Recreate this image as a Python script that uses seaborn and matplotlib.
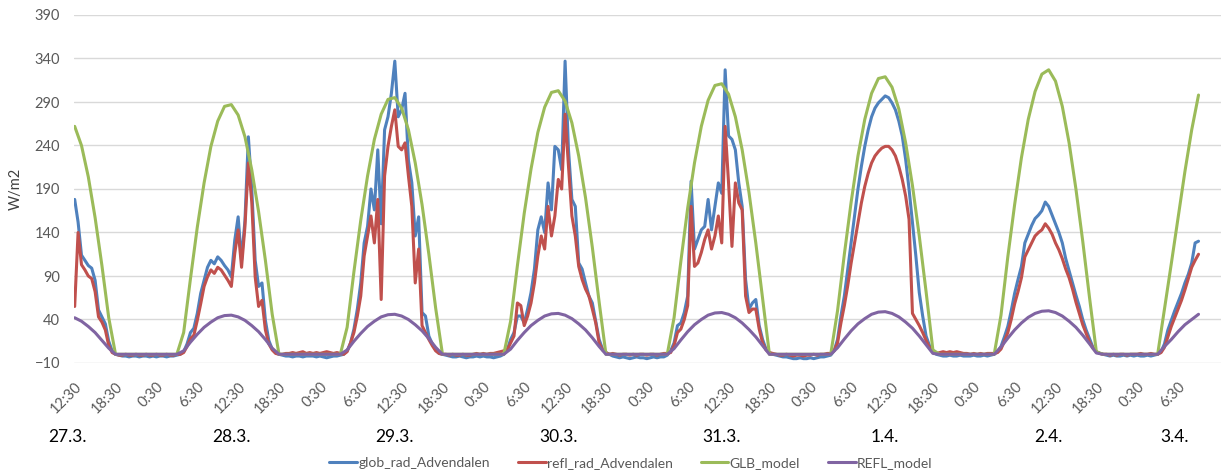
import matplotlib
matplotlib.use("Agg")
import matplotlib.pyplot as plt
import matplotlib.dates as mdates
import matplotlib.transforms as mtransforms
import pandas as pd
import seaborn as sns

# measured radiation, 30 min steps, first value 27.3. 12:30
glob_27 = [178, 152, 114, 108, 102, 99, 85, 51, 43, 35, 15, 4, 0,
           -1, -2, -2, -3, -2, -2, -3, -2, -2, -3]
glob_28 = [-2, -3, -2, -2, -3, -2, -2, -1,
           0, 3, 12, 25, 30, 47, 70, 85, 100, 108, 104, 112, 108, 102, 97,
           89, 131, 158, 108, 154, 250, 190, 108, 78, 82, 39, 16, 6, 2, 0,
           -1, -2, -2, -3, -2, -2, -3, -2, -2, -2]
glob_29 = [-3, -2, -3, -4, -3, -2, -2, -1,
           0, 4, 13, 29, 52, 82, 128, 147, 190, 166, 235, 150, 258, 273, 300,
           337, 273, 281, 300, 223, 197, 136, 158, 48, 44, 21, 12, 5, 1, 0,
           -1, -2, -3, -3, -2, -3, -4, -3, -3, -2]
glob_30 = [-3, -2, -3, -3, -4, -3, -2, 0,
           5, 17, 25, 44, 44, 36, 52, 71, 98, 143, 158, 140, 197, 166, 239,
           235, 212, 337, 235, 178, 170, 105, 98, 82, 67, 59, 38, 17, 6, 2,
           0, -2, -3, -4, -3, -4, -5, -4, -3, -4]
glob_31 = [-4, -5, -4, -3, -4, -3, -3, -1,
           4, 13, 33, 36, 48, 67, 199, 121, 132, 143, 147, 178, 143, 170, 197,
           185, 327, 251, 247, 235, 197, 170, 86, 52, 59, 63, 33, 17, 6, 2,
           0, -1, -2, -3, -3, -4, -5, -5, -4, -5]
glob_01 = [-5, -4, -5, -4, -3, -3, -2, -1,
           4, 17, 44, 67, 98, 128, 159, 190, 216, 239, 258, 273, 283, 289, 293,
           297, 295, 289, 281, 268, 251, 224, 190, 151, 113, 71, 44, 21, 10, 4,
           0, -1, -2, -2, -1, -2, -2, -1, -2, -2]
glob_02 = [-2, -1, -2, -2, -1, -2, -1, 0,
           3, 9, 20, 32, 50, 70, 86, 101, 128, 138, 148, 156, 160, 165, 175,
           170, 160, 150, 140, 128, 110, 96, 82, 68, 55, 40, 28, 18, 8, 3,
           1, 0, -1, -2, -1, -2, -2, -1, -2, -1]
glob_03 = [-2, -1, -2, -2, -1, -2, -1, 0,
           3, 12, 28, 39, 50, 60, 70, 82, 92, 105, 128, 130]

refl_27 = [55, 140, 103, 97, 90, 87, 72, 43, 37, 28, 10, 2, 0,
           -1, -1, 0, -1, -1, 0, -1, -1, 0, -1]
refl_28 = [-1, 0, -1, -1, 0, -1, -1, 0,
           0, 2, 9, 18, 22, 39, 58, 78, 89, 97, 93, 100, 97, 91, 85,
           78, 116, 143, 100, 147, 220, 175, 89, 55, 62, 28, 12, 5, 1, 0,
           0, 1, 1, 2, 1, 2, 3, 1, 2, 1]
refl_29 = [2, 1, 2, 3, 2, 1, 2, 1,
           0, 3, 13, 25, 44, 67, 113, 136, 159, 128, 178, 63, 205, 239, 262,
           281, 239, 235, 243, 205, 170, 82, 121, 33, 25, 17, 10, 4, 1, 0,
           0, -1, 0, -1, -1, 0, -1, -1, 0, 1]
refl_30 = [0, 1, 0, 1, 1, 2, 3, 4,
           5, 13, 21, 59, 56, 33, 44, 59, 82, 113, 136, 121, 170, 136, 159,
           201, 190, 276, 216, 159, 136, 101, 86, 75, 67, 52, 36, 13, 5, 2,
           0, 1, 0, -1, 0, 0, -1, 0, -1, 0]
refl_31 = [0, -1, 0, 0, -1, 0, 1, 1,
           2, 10, 25, 29, 40, 56, 170, 101, 105, 117, 132, 143, 121, 136, 159,
           128, 262, 197, 124, 197, 174, 166, 67, 48, 52, 52, 29, 13, 5, 2,
           1, 0, -1, -1, 0, -1, -2, -1, -1, -2]
refl_01 = [-1, -1, 0, -1, 0, 0, 1, 1,
           4, 13, 36, 56, 79, 105, 128, 151, 174, 193, 208, 220, 228, 233, 237,
           239, 239, 235, 228, 216, 201, 182, 155, 47, 40, 33, 25, 16, 8, 4,
           1, 2, 3, 2, 3, 2, 3, 2, 1, 1]
refl_02 = [0, 1, 0, 1, 0, 1, 1, 1,
           2, 6, 15, 25, 40, 58, 72, 88, 112, 120, 128, 136, 140, 143, 150,
           145, 138, 128, 120, 110, 98, 88, 75, 60, 47, 34, 24, 14, 7, 3,
           1, 0, 0, -1, 0, -1, 0, 0, -1, 0]
refl_03 = [0, 0, 1, 0, 0, 1, 0, 0,
           2, 8, 20, 32, 42, 52, 62, 74, 87, 100, 108, 115]

# model values, hourly, first value 27.3. 12:30
glb_27 = [262, 240, 204, 157, 102, 42, 0, 0, 0, 0, 0, 0]
glb_28 = [0, 0, 0, 0, 25, 87, 146, 197, 239, 268, 285, 287, 275, 250, 212, 164, 108, 46, 0, 0, 0, 0, 0, 0]
glb_29 = [0, 0, 0, 0, 31, 95, 154, 205, 247, 276, 293, 295, 283, 258, 220, 172, 115, 53, 0, 0, 0, 0, 0, 0]
glb_30 = [0, 0, 0, 0, 38, 102, 162, 213, 255, 284, 301, 303, 291, 266, 228, 180, 123, 60, 0, 0, 0, 0, 0, 0]
glb_31 = [0, 0, 0, 0, 42, 107, 168, 220, 262, 292, 309, 311, 299, 273, 235, 186, 128, 64, 0, 0, 0, 0, 0, 0]
glb_01 = [0, 0, 0, 0, 50, 115, 175, 228, 270, 300, 317, 319, 307, 282, 243, 194, 136, 72, 5, 0, 0, 0, 0, 0]
glb_02 = [0, 0, 0, 0, 45, 112, 172, 226, 270, 302, 322, 327, 314, 285, 243, 190, 130, 65, 3, 0, 0, 0, 0, 0]
glb_03 = [0, 0, 0, 0, 52, 104, 157, 210, 258, 298]

reflm_27 = [42, 38, 32, 25, 16, 7, 0, 0, 0, 0, 0, 0]
reflm_28 = [0, 0, 0, 0, 4, 14, 23, 31, 37, 42, 44.5, 45, 43, 39, 33, 26, 17, 7, 0, 0, 0, 0, 0, 0]
reflm_29 = [0, 0, 0, 0, 5, 15, 24, 32, 38, 43, 45.5, 46, 44, 40, 34, 27, 18, 8, 0, 0, 0, 0, 0, 0]
reflm_30 = [0, 0, 0, 0, 6, 16, 25, 33, 39, 44, 46.5, 47, 45, 41, 35, 28, 19, 9, 0, 0, 0, 0, 0, 0]
reflm_31 = [0, 0, 0, 0, 6.5, 16.5, 26, 34, 40, 45, 47.5, 48, 46, 42, 36, 28.5, 20, 10, 0, 0, 0, 0, 0, 0]
reflm_01 = [0, 0, 0, 0, 7.5, 17.5, 27, 35, 41, 46, 48.5, 49, 47, 43, 37, 30, 21, 11, 1, 0, 0, 0, 0, 0]
reflm_02 = [0, 0, 0, 0, 8.5, 18.5, 28, 36, 42.5, 47, 49.5, 50, 48, 44, 38, 31, 22, 12, 1.5, 0, 0, 0, 0, 0]
reflm_03 = [0, 0, 0, 0, 9, 17, 26, 34, 40, 46]

date_labels = ["27.3.", "28.3.", "29.3.", "30.3.", "31.3.", "1.4.", "2.4.", "3.4."]
date_label_times = ["2014-03-27 11:30", "2014-03-28 11:30", "2014-03-29 11:30",
                    "2014-03-30 11:30", "2014-03-31 11:30", "2014-04-01 11:30",
                    "2014-04-02 11:30", "2014-04-03 06:00"]

names = ["glob_rad_Advendalen", "refl_rad_Advendalen", "GLB_model", "REFL_model"]
colors = ["#4F81BD", "#C0504D", "#9BBB59", "#8064A2"]

start = pd.Timestamp("2014-03-27 12:30")

glob = glob_27 + glob_28 + glob_29 + glob_30 + glob_31 + glob_01 + glob_02 + glob_03
refl = refl_27 + refl_28 + refl_29 + refl_30 + refl_31 + refl_01 + refl_02 + refl_03
glb = glb_27 + glb_28 + glb_29 + glb_30 + glb_31 + glb_01 + glb_02 + glb_03
reflm = reflm_27 + reflm_28 + reflm_29 + reflm_30 + reflm_31 + reflm_01 + reflm_02 + reflm_03

t_meas = pd.date_range(start, periods=len(glob), freq="30min")
t_mod = pd.date_range(start, periods=len(glb), freq="h")

data = pd.concat([
    pd.DataFrame({"time": t_meas, "value": glob, "series": names[0]}),
    pd.DataFrame({"time": t_meas, "value": refl, "series": names[1]}),
    pd.DataFrame({"time": t_mod, "value": glb, "series": names[2]}),
    pd.DataFrame({"time": t_mod, "value": reflm, "series": names[3]}),
], ignore_index=True)

sns.set_style("white")
plt.rcParams["font.family"] = ["Lato", "DejaVu Sans"]

fig, ax = plt.subplots(figsize=(12.23, 4.74), dpi=100)
fig.subplots_adjust(left=74 / 1223, right=1221 / 1223, top=1 - 15 / 474, bottom=1 - 363 / 474)

sns.lineplot(data=data, x="time", y="value", hue="series", hue_order=names,
             palette=colors, linewidth=2.2, estimator=None, ax=ax)

ax.set_xlim(start - pd.Timedelta(minutes=6), start + pd.Timedelta(hours=168.3))
ax.set_ylim(-10, 390)
ax.set_yticks(range(-10, 391, 50))
ax.grid(axis="y", color="#D9D9D9", linewidth=1)
ax.grid(axis="x", visible=False)
sns.despine(ax=ax, left=True, bottom=True)

ticks = pd.date_range(start, periods=28, freq="6h")
ax.set_xticks(mdates.date2num(ticks))
ax.set_xticklabels([f"{t.hour}:{t.minute:02d}" for t in ticks], rotation=45,
                   ha="right", va="top", rotation_mode="anchor")
shift = mtransforms.ScaledTranslation(4 / 100, 0, fig.dpi_scale_trans)
for lab in ax.get_xticklabels():
    lab.set_transform(lab.get_transform() + shift)
ax.tick_params(axis="x", length=0, pad=12, labelsize=10.5, labelcolor="#595959")
ax.tick_params(axis="y", length=0, pad=10, labelsize=10.5, labelcolor="#595959")

ax.set_xlabel("")
ax.set_ylabel("W/m2", fontsize=10.5, color="#404040")
ax.yaxis.set_label_coords(-0.045, 0.5)

trans = mtransforms.blended_transform_factory(ax.transData, fig.transFigure)
for lab, when in zip(date_labels, date_label_times):
    ax.text(mdates.date2num(pd.Timestamp(when)), 1 - 437 / 474, lab, transform=trans,
            ha="center", va="center", fontsize=12.5, color="black")

handles, labels = ax.get_legend_handles_labels()
ax.get_legend().remove()
fig.legend(handles, labels, loc="center", bbox_to_anchor=(631 / 1223, 1 - 463 / 474),
           ncol=4, frameon=False, fontsize=10, handlelength=2.0, handletextpad=0.1,
           columnspacing=2.0, labelcolor="#595959")

fig.savefig("out.png", dpi=100)
